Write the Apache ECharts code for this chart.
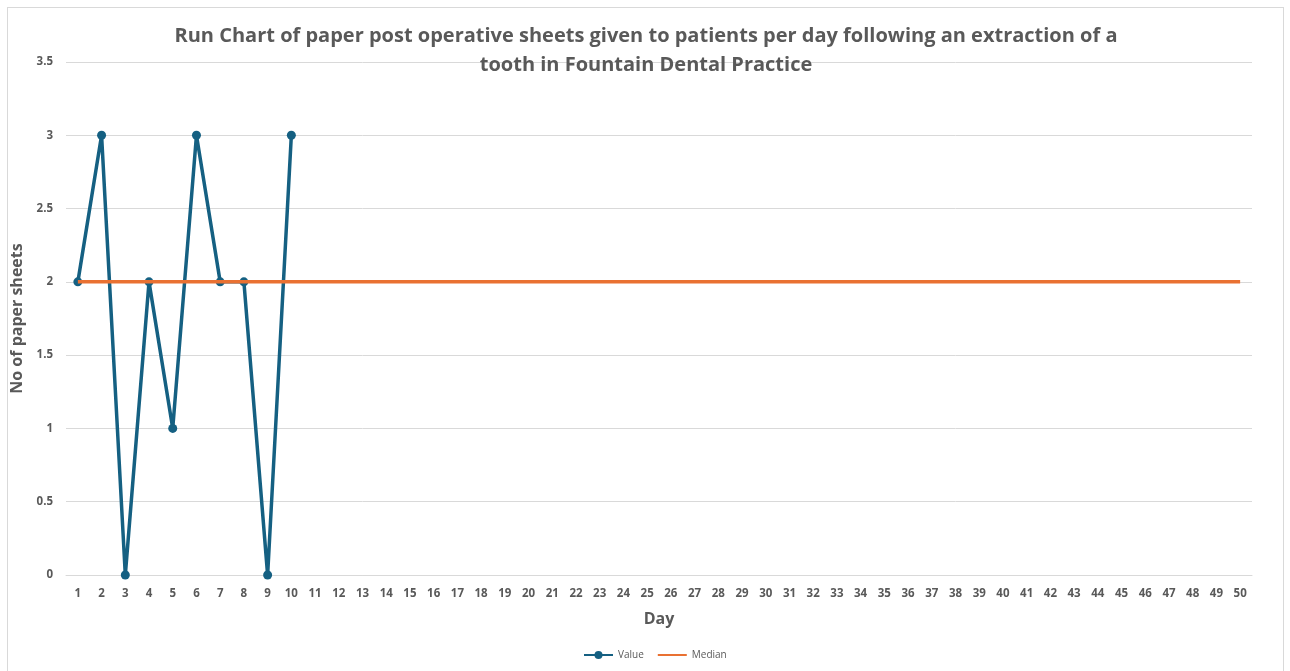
<!DOCTYPE html>
<html>
<head>
<meta charset="utf-8">
<title>Run Chart</title>
<script src="https://cdn.jsdelivr.net/npm/echarts@6/dist/echarts.min.js"></script>
<style>
  html, body { margin: 0; padding: 0; background: #fff; }
  #frame { position: absolute; left: 7px; top: 7px; width: 1277px; height: 670px;
           border: 1px solid #d9d9d9; box-sizing: border-box; }
  #chart { position: absolute; left: 0; top: 0; width: 1290px; height: 671px; }
</style>
</head>
<body>
<div id="frame"></div>
<div id="chart"></div>
<script>
// data
const days = [];
for (let d = 1; d <= 50; d++) days.push(String(d));
const values = [2, 3, 0, 2, 1, 3, 2, 2, 0, 3];
const median = [2, 2, 2, 2, 2, 2, 2, 2, 2, 2, 2, 2, 2, 2, 2, 2, 2, 2, 2, 2, 2, 2, 2, 2, 2,
                2, 2, 2, 2, 2, 2, 2, 2, 2, 2, 2, 2, 2, 2, 2, 2, 2, 2, 2, 2, 2, 2, 2, 2, 2];

let chart = echarts.init(document.getElementById('chart'));
const grey = '#595959';
const font = 'Open Sans';

chart.setOption({
    animation: false,
    textStyle: { fontFamily: font },
    title: {
        text: 'Run Chart of paper post operative sheets given to patients per day following an extraction of a\ntooth in Fountain Dental Practice',
        left: 641, top: 17, textAlign: 'center',
        textStyle: { fontFamily: font, fontSize: 20, fontWeight: 'bold', color: grey, lineHeight: 29 }
    },
    legend: {
        bottom: 6, left: 578,
        itemWidth: 29, itemHeight: 10, itemGap: 13,
        textStyle: { fontSize: 10, color: grey, fontFamily: font },
        data: ['Value', { name: 'Median', itemStyle: { color: 'rgba(0,0,0,0)', borderWidth: 0 } }]
    },
    grid: { left: 66, right: 38, top: 62, bottom: 96 },
    xAxis: {
        type: 'category',
        data: days,
        boundaryGap: true,
        name: 'Day', nameLocation: 'middle', nameGap: 36,
        nameTextStyle: { fontSize: 16, fontWeight: 'bold', color: grey },
        axisLine: { lineStyle: { color: '#d9d9d9' } },
        axisTick: { show: false },
        axisLabel: { color: grey, fontSize: 11.5, fontWeight: 'bold', interval: 0, margin: 13 }
    },
    yAxis: {
        type: 'value', min: 0, max: 3.5, interval: 0.5,
        name: 'No of paper sheets', nameLocation: 'middle', nameGap: 40,
        nameTextStyle: { fontSize: 16, fontWeight: 'bold', color: grey },
        axisLine: { show: false },
        axisTick: { show: false },
        axisLabel: { color: grey, fontSize: 11.5, fontWeight: 'bold', margin: 13 },
        splitLine: { lineStyle: { color: '#d9d9d9' } }
    },
    series: [
        {
            name: 'Value', type: 'line', data: values,
            symbol: 'circle', symbolSize: 9,
            itemStyle: { color: '#156082' },
            lineStyle: { width: 3.5, color: '#156082' },
            z: 2
        },
        {
            name: 'Median', type: 'line', data: median,
            symbol: 'none',
            itemStyle: { color: '#E97132' },
            lineStyle: { width: 3.5, color: '#E97132' },
            z: 3
        }
    ]
});
</script>
</body>
</html>
